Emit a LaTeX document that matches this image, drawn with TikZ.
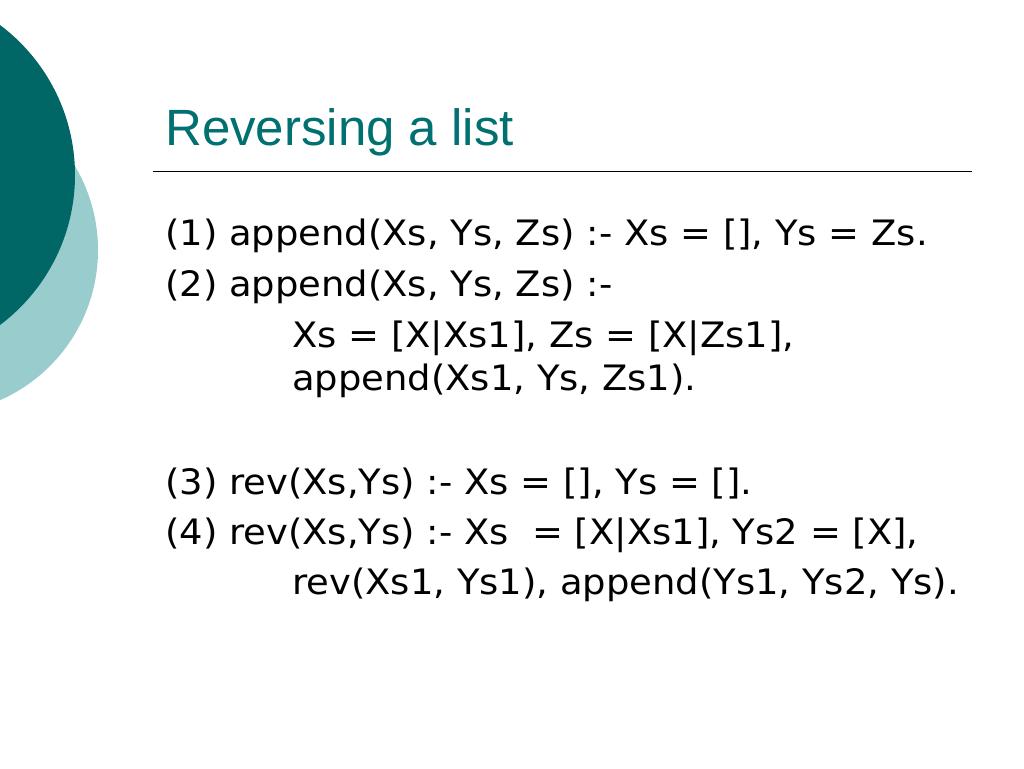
\documentclass[tikz,border=0pt]{standalone}
\usepackage{fontspec}
\setmainfont[FakeStretch=1.055]{DejaVu Sans}
\newfontfamily\titlefont{Liberation Sans}
\definecolor{darkteal}{RGB}{0,102,102}
\definecolor{lightteal}{RGB}{153,204,204}
\definecolor{titlecol}{RGB}{0,112,112}
\begin{document}
\begin{tikzpicture}[x=1pt,y=-1pt,
  body/.style={anchor=base west,inner sep=0pt,font=\fontsize{35}{42}\selectfont,text=black},
  titletext/.style={anchor=base west,inner sep=0pt,font=\titlefont\fontsize{51}{60}\selectfont,text=titlecol}]
\useasboundingbox (0,0) rectangle (1024,768);
\fill[white] (0,0) rectangle (1024,768);
\begin{scope}
\clip (0,0) rectangle (1024,768);
\fill[lightteal] (-66,250) circle (164);
\fill[darkteal] (-112.5,175) circle (187.5);
\end{scope}
\node[titletext] (title) at (165,145) {Reversing a list};
\coordinate (rl) at (153,171);
\coordinate (rr) at (972,171);
\draw[line width=1pt,black] (rl) -- (rr);
\node[body] (l1) at (165,245) {(1) append(Xs, Ys, Zs) :- Xs = [], Ys = Zs.};
\node[body] (l2) at (165,296) {(2) append(Xs, Ys, Zs) :-};
\node[body] (l3) at (292,347) {Xs = [X|Xs1], Zs = [X|Zs1],};
\node[body] (l4) at (292,390) {append(Xs1, Ys, Zs1).};
\node[body] (l5) at (165,494) {(3) rev(Xs,Ys) :- Xs = [], Ys = [].};
\node[body] (l6) at (165,544) {(4) rev(Xs,Ys) :- Xs\ \ = [X|Xs1], Ys2 = [X],};
\node[body] (l7) at (292,594) {rev(Xs1, Ys1), append(Ys1, Ys2, Ys).};
\end{tikzpicture}
\end{document}
